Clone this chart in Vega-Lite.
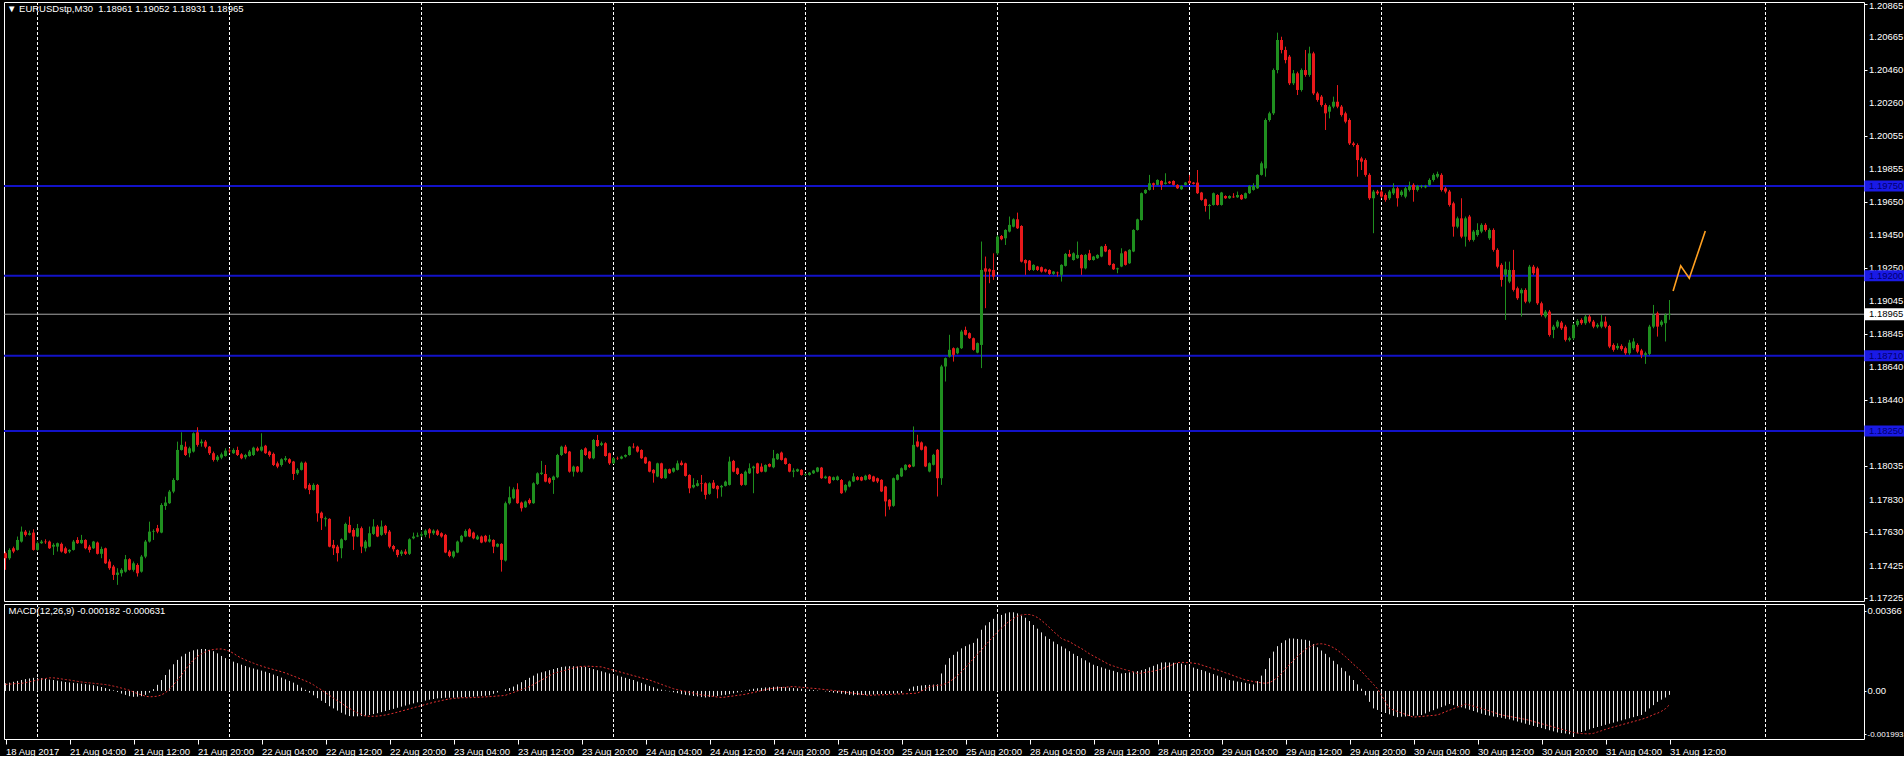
{
"$schema":"https://vega.github.io/schema/vega-lite/v6.json",
"background":"#000000",
"padding":{"left":2,"top":0,"right":0,"bottom":0},
"bounds":"flush",
"config":{"view":{"stroke":"#ffffff","strokeWidth":1},"concat":{"spacing":3},
"axis":{"labelFont":"Liberation Sans","labelFontSize":9.5,"labelColor":"#ffffff","tickColor":"#ffffff","domain":false,"grid":false,"labelFlush":false,"labelOverlap":false},
"title":{"font":"Liberation Sans","fontSize":9.5,"fontWeight":"normal","color":"#ffffff","anchor":"start"}},
"datasets":{
"grid":[{"g":8},{"g":56},{"g":104},{"g":152},{"g":200},{"g":248},{"g":296},{"g":344},{"g":392},{"g":440}],
"levels":[{"v":1.1975},{"v":1.192},{"v":1.1871},{"v":1.1825}],
"cur":[{"v":1.18965}],
"yttop":[{"v":1.20865}],
"yt":[{"v":1.20665},{"v":1.2046},{"v":1.2026},{"v":1.20055},{"v":1.19855},{"v":1.1965},{"v":1.1945},{"v":1.1925},{"v":1.19045},{"v":1.18845},{"v":1.1864},{"v":1.1844},{"v":1.18235},{"v":1.18035},{"v":1.1783},{"v":1.1763},{"v":1.17425},{"v":1.17225}],
"zig":[{"i":416.9,"p":1.19107},{"i":418.8,"p":1.19262},{"i":420.95,"p":1.19185},{"i":424.95,"p":1.19474}],
"k":[
{"i":0,"o":1.17502,"h":1.17512,"l":1.174,"c":1.17471,"m":0.00035,"s":0.0003},
{"i":1,"o":1.17471,"h":1.17532,"l":1.17461,"c":1.17522,"m":0.00038,"s":0.00031},
{"i":2,"o":1.17532,"h":1.17542,"l":1.17502,"c":1.17512,"m":0.00042,"s":0.00033},
{"i":3,"o":1.17522,"h":1.17604,"l":1.17518,"c":1.17583,"m":0.00046,"s":0.00034},
{"i":4,"o":1.17573,"h":1.17665,"l":1.17567,"c":1.17634,"m":0.0005,"s":0.00035},
{"i":5,"o":1.17634,"h":1.17644,"l":1.17604,"c":1.17614,"m":0.00054,"s":0.00038},
{"i":6,"o":1.17614,"h":1.1764,"l":1.1761,"c":1.17624,"m":0.00057,"s":0.00042},
{"i":7,"o":1.17628,"h":1.17648,"l":1.17518,"c":1.17522,"m":0.0006,"s":0.00046},
{"i":8,"o":1.17522,"h":1.17573,"l":1.17518,"c":1.17563,"m":0.0006,"s":0.0005},
{"i":9,"o":1.17563,"h":1.17583,"l":1.17559,"c":1.17573,"m":0.00058,"s":0.00054},
{"i":10,"o":1.17573,"h":1.17587,"l":1.17559,"c":1.17569,"m":0.00055,"s":0.00057},
{"i":11,"o":1.17573,"h":1.17579,"l":1.17528,"c":1.17532,"m":0.00052,"s":0.0006},
{"i":12,"o":1.17542,"h":1.17563,"l":1.17491,"c":1.17553,"m":0.0005,"s":0.0006},
{"i":13,"o":1.17542,"h":1.17567,"l":1.17512,"c":1.17563,"m":0.00047,"s":0.00058},
{"i":14,"o":1.17559,"h":1.17567,"l":1.17506,"c":1.17512,"m":0.00044,"s":0.00055},
{"i":15,"o":1.17532,"h":1.17542,"l":1.17498,"c":1.17502,"m":0.00041,"s":0.00052},
{"i":16,"o":1.17512,"h":1.17526,"l":1.17502,"c":1.17522,"m":0.00039,"s":0.0005},
{"i":17,"o":1.17522,"h":1.17583,"l":1.17518,"c":1.17573,"m":0.00037,"s":0.00047},
{"i":18,"o":1.17583,"h":1.176,"l":1.17559,"c":1.17563,"m":0.00035,"s":0.00044},
{"i":19,"o":1.17563,"h":1.17614,"l":1.17559,"c":1.17583,"m":0.00033,"s":0.00041},
{"i":20,"o":1.17583,"h":1.17587,"l":1.17526,"c":1.17532,"m":0.00031,"s":0.00039},
{"i":21,"o":1.17542,"h":1.17553,"l":1.17506,"c":1.17522,"m":0.00029,"s":0.00037},
{"i":22,"o":1.17532,"h":1.17577,"l":1.17528,"c":1.17573,"m":0.00026,"s":0.00035},
{"i":23,"o":1.17567,"h":1.17573,"l":1.17494,"c":1.17498,"m":0.00022,"s":0.00033},
{"i":24,"o":1.17498,"h":1.17542,"l":1.17471,"c":1.17528,"m":0.00018,"s":0.00031},
{"i":25,"o":1.17532,"h":1.17536,"l":1.17436,"c":1.1744,"m":0.00013,"s":0.00029},
{"i":26,"o":1.17451,"h":1.17465,"l":1.174,"c":1.1741,"m":0.00008,"s":0.00026},
{"i":27,"o":1.1742,"h":1.1743,"l":1.17338,"c":1.17369,"m":0.00003,"s":0.00022},
{"i":28,"o":1.17369,"h":1.1741,"l":1.17308,"c":1.17383,"m":-0.00005,"s":0.00018},
{"i":29,"o":1.17379,"h":1.1741,"l":1.17359,"c":1.174,"m":-0.00012,"s":0.00013},
{"i":30,"o":1.17389,"h":1.17491,"l":1.17383,"c":1.17465,"m":-0.00018,"s":0.00008},
{"i":31,"o":1.17465,"h":1.17471,"l":1.17396,"c":1.174,"m":-0.00024,"s":0.00003},
{"i":32,"o":1.174,"h":1.17451,"l":1.17389,"c":1.1744,"m":-0.00027,"s":-0.00005},
{"i":33,"o":1.1743,"h":1.1744,"l":1.17359,"c":1.17379,"m":-0.00026,"s":-0.00012},
{"i":34,"o":1.17389,"h":1.17491,"l":1.17383,"c":1.17481,"m":-0.00024,"s":-0.00018},
{"i":35,"o":1.17481,"h":1.17583,"l":1.17471,"c":1.17573,"m":-0.00018,"s":-0.00024},
{"i":36,"o":1.17573,"h":1.17695,"l":1.17567,"c":1.17634,"m":-0.00008,"s":-0.00027},
{"i":37,"o":1.17634,"h":1.17648,"l":1.17583,"c":1.17638,"m":0.00008,"s":-0.00026},
{"i":38,"o":1.17655,"h":1.17675,"l":1.17624,"c":1.17634,"m":0.00028,"s":-0.00024},
{"i":39,"o":1.17628,"h":1.17808,"l":1.17624,"c":1.17797,"m":0.0005,"s":-0.00018},
{"i":40,"o":1.17791,"h":1.17848,"l":1.17767,"c":1.17812,"m":0.00073,"s":-0.00008},
{"i":41,"o":1.17808,"h":1.17889,"l":1.17804,"c":1.17879,"m":0.00098,"s":0.00008},
{"i":42,"o":1.17879,"h":1.17961,"l":1.17869,"c":1.1795,"m":0.00122,"s":0.00028},
{"i":43,"o":1.1795,"h":1.18185,"l":1.17946,"c":1.18134,"m":0.00142,"s":0.0005},
{"i":44,"o":1.18134,"h":1.18242,"l":1.1813,"c":1.18165,"m":0.00158,"s":0.00073},
{"i":45,"o":1.18154,"h":1.18185,"l":1.18097,"c":1.18103,"m":0.0017,"s":0.00098},
{"i":46,"o":1.18114,"h":1.18154,"l":1.18089,"c":1.18144,"m":0.00179,"s":0.00122},
{"i":47,"o":1.18124,"h":1.18242,"l":1.18118,"c":1.18236,"m":0.00186,"s":0.00142},
{"i":48,"o":1.18242,"h":1.18273,"l":1.18154,"c":1.18165,"m":0.0019,"s":0.00158},
{"i":49,"o":1.18175,"h":1.18199,"l":1.18154,"c":1.18185,"m":0.00192,"s":0.0017},
{"i":50,"o":1.18185,"h":1.18195,"l":1.18144,"c":1.18154,"m":0.00192,"s":0.00179},
{"i":51,"o":1.18154,"h":1.18158,"l":1.18103,"c":1.18114,"m":0.00188,"s":0.00186},
{"i":52,"o":1.18114,"h":1.18124,"l":1.18063,"c":1.18073,"m":0.00182,"s":0.0019},
{"i":53,"o":1.18073,"h":1.18103,"l":1.18063,"c":1.18093,"m":0.00172,"s":0.00192},
{"i":54,"o":1.18087,"h":1.18118,"l":1.18077,"c":1.18107,"m":0.0016,"s":0.00192},
{"i":55,"o":1.18097,"h":1.18144,"l":1.18093,"c":1.1813,"m":0.0015,"s":0.00188},
{"i":56,"o":1.1813,"h":1.18144,"l":1.18114,"c":1.18126,"m":0.00142,"s":0.00182},
{"i":57,"o":1.18114,"h":1.18144,"l":1.1811,"c":1.18134,"m":0.00134,"s":0.00172},
{"i":58,"o":1.18134,"h":1.18154,"l":1.18097,"c":1.18103,"m":0.00127,"s":0.0016},
{"i":59,"o":1.18107,"h":1.18114,"l":1.18077,"c":1.18083,"m":0.0012,"s":0.0015},
{"i":60,"o":1.18089,"h":1.1811,"l":1.18077,"c":1.18103,"m":0.00114,"s":0.00142},
{"i":61,"o":1.18097,"h":1.18134,"l":1.18093,"c":1.18124,"m":0.00108,"s":0.00134},
{"i":62,"o":1.18103,"h":1.18154,"l":1.18097,"c":1.18148,"m":0.00103,"s":0.00127},
{"i":63,"o":1.18144,"h":1.18154,"l":1.18124,"c":1.1813,"m":0.00098,"s":0.0012},
{"i":64,"o":1.1813,"h":1.18236,"l":1.18124,"c":1.18154,"m":0.00093,"s":0.00114},
{"i":65,"o":1.1816,"h":1.18165,"l":1.1811,"c":1.18114,"m":0.00088,"s":0.00108},
{"i":66,"o":1.18124,"h":1.1813,"l":1.18093,"c":1.18103,"m":0.00082,"s":0.00103},
{"i":67,"o":1.1811,"h":1.18118,"l":1.18036,"c":1.18042,"m":0.00075,"s":0.00098},
{"i":68,"o":1.18052,"h":1.18063,"l":1.18022,"c":1.18032,"m":0.00068,"s":0.00093},
{"i":69,"o":1.18042,"h":1.18083,"l":1.18032,"c":1.18077,"m":0.00061,"s":0.00088},
{"i":70,"o":1.18073,"h":1.18097,"l":1.18063,"c":1.18083,"m":0.00053,"s":0.00082},
{"i":71,"o":1.18077,"h":1.18083,"l":1.18048,"c":1.18056,"m":0.00046,"s":0.00075},
{"i":72,"o":1.18063,"h":1.18067,"l":1.1795,"c":1.17987,"m":0.00038,"s":0.00068},
{"i":73,"o":1.17991,"h":1.18022,"l":1.17981,"c":1.18012,"m":0.00028,"s":0.00061},
{"i":74,"o":1.18012,"h":1.18063,"l":1.18008,"c":1.18056,"m":0.00015,"s":0.00053},
{"i":75,"o":1.18056,"h":1.18063,"l":1.17893,"c":1.17899,"m":0.00005,"s":0.00046},
{"i":76,"o":1.1792,"h":1.1793,"l":1.17863,"c":1.17889,"m":-0.00008,"s":0.00038},
{"i":77,"o":1.17889,"h":1.1793,"l":1.17885,"c":1.1792,"m":-0.0002,"s":0.00028},
{"i":78,"o":1.1792,"h":1.17926,"l":1.17695,"c":1.17746,"m":-0.00033,"s":0.00015},
{"i":79,"o":1.1775,"h":1.17757,"l":1.17644,"c":1.17716,"m":-0.00045,"s":0.00005},
{"i":80,"o":1.1771,"h":1.17726,"l":1.17665,"c":1.17716,"m":-0.00055,"s":-0.00008},
{"i":81,"o":1.17712,"h":1.17716,"l":1.17538,"c":1.17542,"m":-0.0007,"s":-0.0002},
{"i":82,"o":1.17553,"h":1.17583,"l":1.17491,"c":1.17532,"m":-0.0008,"s":-0.00033},
{"i":83,"o":1.17542,"h":1.17553,"l":1.17451,"c":1.17502,"m":-0.0009,"s":-0.00045},
{"i":84,"o":1.17532,"h":1.17593,"l":1.17471,"c":1.17587,"m":-0.001,"s":-0.00055},
{"i":85,"o":1.17583,"h":1.17689,"l":1.17579,"c":1.17681,"m":-0.00108,"s":-0.0007},
{"i":86,"o":1.17675,"h":1.17726,"l":1.17624,"c":1.17628,"m":-0.00115,"s":-0.0008},
{"i":87,"o":1.17644,"h":1.17655,"l":1.17522,"c":1.17604,"m":-0.00116,"s":-0.0009},
{"i":88,"o":1.17604,"h":1.17681,"l":1.176,"c":1.17655,"m":-0.00116,"s":-0.001},
{"i":89,"o":1.17655,"h":1.17665,"l":1.17502,"c":1.17542,"m":-0.00115,"s":-0.00108},
{"i":90,"o":1.17532,"h":1.17583,"l":1.17512,"c":1.17573,"m":-0.00113,"s":-0.00115},
{"i":91,"o":1.17542,"h":1.17665,"l":1.17538,"c":1.17624,"m":-0.0011,"s":-0.00116},
{"i":92,"o":1.1762,"h":1.1771,"l":1.17614,"c":1.17665,"m":-0.00106,"s":-0.00116},
{"i":93,"o":1.17665,"h":1.17675,"l":1.176,"c":1.17604,"m":-0.00102,"s":-0.00115},
{"i":94,"o":1.17614,"h":1.17702,"l":1.17608,"c":1.17665,"m":-0.00097,"s":-0.00113},
{"i":95,"o":1.17669,"h":1.17675,"l":1.17614,"c":1.17624,"m":-0.00092,"s":-0.0011},
{"i":96,"o":1.17634,"h":1.17644,"l":1.17532,"c":1.17542,"m":-0.00087,"s":-0.00106},
{"i":97,"o":1.17546,"h":1.17553,"l":1.17512,"c":1.17526,"m":-0.00082,"s":-0.00102},
{"i":98,"o":1.17522,"h":1.17526,"l":1.17477,"c":1.17491,"m":-0.00077,"s":-0.00097},
{"i":99,"o":1.17498,"h":1.17522,"l":1.17485,"c":1.17512,"m":-0.00072,"s":-0.00092},
{"i":100,"o":1.17512,"h":1.17526,"l":1.17491,"c":1.17498,"m":-0.00067,"s":-0.00087},
{"i":101,"o":1.17498,"h":1.17593,"l":1.17491,"c":1.17587,"m":-0.00062,"s":-0.00082},
{"i":102,"o":1.17593,"h":1.17628,"l":1.17587,"c":1.17604,"m":-0.00057,"s":-0.00077},
{"i":103,"o":1.17604,"h":1.17628,"l":1.176,"c":1.1761,"m":-0.00052,"s":-0.00072},
{"i":104,"o":1.1761,"h":1.17634,"l":1.176,"c":1.17618,"m":-0.00048,"s":-0.00067},
{"i":105,"o":1.17614,"h":1.17648,"l":1.176,"c":1.1764,"m":-0.00044,"s":-0.00062},
{"i":106,"o":1.17648,"h":1.17655,"l":1.17593,"c":1.17624,"m":-0.0004,"s":-0.00057},
{"i":107,"o":1.17624,"h":1.17648,"l":1.17614,"c":1.1764,"m":-0.00037,"s":-0.00052},
{"i":108,"o":1.1764,"h":1.17648,"l":1.17608,"c":1.17614,"m":-0.00034,"s":-0.00048},
{"i":109,"o":1.17624,"h":1.1763,"l":1.17597,"c":1.17604,"m":-0.00033,"s":-0.00044},
{"i":110,"o":1.17614,"h":1.1762,"l":1.17502,"c":1.17506,"m":-0.00031,"s":-0.0004},
{"i":111,"o":1.17512,"h":1.17522,"l":1.17477,"c":1.17485,"m":-0.00031,"s":-0.00037},
{"i":112,"o":1.17481,"h":1.17518,"l":1.17471,"c":1.17512,"m":-0.00031,"s":-0.00034},
{"i":113,"o":1.17506,"h":1.17579,"l":1.17502,"c":1.17573,"m":-0.0003,"s":-0.00033},
{"i":114,"o":1.17573,"h":1.17614,"l":1.17567,"c":1.17608,"m":-0.00029,"s":-0.00031},
{"i":115,"o":1.17604,"h":1.17648,"l":1.176,"c":1.17638,"m":-0.00028,"s":-0.00031},
{"i":116,"o":1.17648,"h":1.17655,"l":1.176,"c":1.17604,"m":-0.00027,"s":-0.00031},
{"i":117,"o":1.17628,"h":1.17634,"l":1.17587,"c":1.17593,"m":-0.00026,"s":-0.0003},
{"i":118,"o":1.17587,"h":1.17614,"l":1.17583,"c":1.17604,"m":-0.00025,"s":-0.00029},
{"i":119,"o":1.17604,"h":1.1761,"l":1.17563,"c":1.17567,"m":-0.00023,"s":-0.00028},
{"i":120,"o":1.17608,"h":1.17614,"l":1.17567,"c":1.17573,"m":-0.00022,"s":-0.00027},
{"i":121,"o":1.17573,"h":1.17614,"l":1.17567,"c":1.17587,"m":-0.0002,"s":-0.00026},
{"i":122,"o":1.17583,"h":1.17587,"l":1.17502,"c":1.17542,"m":-0.00013,"s":-0.00025},
{"i":123,"o":1.17542,"h":1.17563,"l":1.17538,"c":1.17559,"m":-0.00007,"s":-0.00023},
{"i":124,"o":1.17559,"h":1.17563,"l":1.17389,"c":1.17461,"m":0,"s":-0.00022},
{"i":125,"o":1.17457,"h":1.17818,"l":1.17451,"c":1.17808,"m":0.00007,"s":-0.0002},
{"i":126,"o":1.17808,"h":1.1791,"l":1.178,"c":1.17844,"m":0.00013,"s":-0.00013},
{"i":127,"o":1.17838,"h":1.17905,"l":1.17832,"c":1.17893,"m":0.0002,"s":-0.00007},
{"i":128,"o":1.17893,"h":1.1793,"l":1.17804,"c":1.17808,"m":0.0003,"s":0},
{"i":129,"o":1.17812,"h":1.17818,"l":1.17757,"c":1.17777,"m":0.0004,"s":0.00007},
{"i":130,"o":1.17783,"h":1.17824,"l":1.17779,"c":1.17818,"m":0.0005,"s":0.00013},
{"i":131,"o":1.17828,"h":1.17838,"l":1.178,"c":1.17808,"m":0.0006,"s":0.0002},
{"i":132,"o":1.17808,"h":1.17936,"l":1.17804,"c":1.1793,"m":0.0007,"s":0.0003},
{"i":133,"o":1.17926,"h":1.17997,"l":1.1792,"c":1.17991,"m":0.0008,"s":0.0004},
{"i":134,"o":1.17987,"h":1.18067,"l":1.17981,"c":1.17995,"m":0.00085,"s":0.0005},
{"i":135,"o":1.17987,"h":1.18042,"l":1.17936,"c":1.1794,"m":0.0009,"s":0.0006},
{"i":136,"o":1.17961,"h":1.17967,"l":1.17926,"c":1.17934,"m":0.00095,"s":0.0007},
{"i":137,"o":1.1795,"h":1.17977,"l":1.17865,"c":1.17971,"m":0.001,"s":0.0008},
{"i":138,"o":1.17967,"h":1.1811,"l":1.17961,"c":1.18103,"m":0.00105,"s":0.00085},
{"i":139,"o":1.18103,"h":1.1816,"l":1.18097,"c":1.18154,"m":0.0011,"s":0.0009},
{"i":140,"o":1.18154,"h":1.18165,"l":1.1811,"c":1.18114,"m":0.00112,"s":0.00095},
{"i":141,"o":1.18124,"h":1.18128,"l":1.17995,"c":1.18001,"m":0.00113,"s":0.001},
{"i":142,"o":1.18001,"h":1.18038,"l":1.17971,"c":1.18032,"m":0.00113,"s":0.00105},
{"i":143,"o":1.18032,"h":1.18036,"l":1.17995,"c":1.18001,"m":0.00112,"s":0.0011},
{"i":144,"o":1.18001,"h":1.1814,"l":1.17995,"c":1.18134,"m":0.00111,"s":0.00112},
{"i":145,"o":1.18144,"h":1.1815,"l":1.18097,"c":1.18103,"m":0.0011,"s":0.00113},
{"i":146,"o":1.18124,"h":1.18128,"l":1.18077,"c":1.18083,"m":0.00105,"s":0.00113},
{"i":147,"o":1.18083,"h":1.18201,"l":1.18077,"c":1.18195,"m":0.001,"s":0.00112},
{"i":148,"o":1.18195,"h":1.18226,"l":1.18154,"c":1.18158,"m":0.00095,"s":0.00111},
{"i":149,"o":1.18165,"h":1.18185,"l":1.18158,"c":1.18175,"m":0.0009,"s":0.0011},
{"i":150,"o":1.18175,"h":1.18181,"l":1.18093,"c":1.18097,"m":0.00085,"s":0.00105},
{"i":151,"o":1.18114,"h":1.18118,"l":1.18042,"c":1.18052,"m":0.0008,"s":0.001},
{"i":152,"o":1.18052,"h":1.18089,"l":1.18048,"c":1.18083,"m":0.00075,"s":0.00095},
{"i":153,"o":1.18083,"h":1.18093,"l":1.18073,"c":1.18081,"m":0.0007,"s":0.0009},
{"i":154,"o":1.18081,"h":1.18099,"l":1.18077,"c":1.18093,"m":0.00065,"s":0.00085},
{"i":155,"o":1.18093,"h":1.18107,"l":1.18087,"c":1.18103,"m":0.0006,"s":0.0008},
{"i":156,"o":1.18103,"h":1.18158,"l":1.18099,"c":1.18154,"m":0.00055,"s":0.00075},
{"i":157,"o":1.18154,"h":1.18175,"l":1.18144,"c":1.1815,"m":0.0005,"s":0.0007},
{"i":158,"o":1.18154,"h":1.1816,"l":1.18118,"c":1.18124,"m":0.00043,"s":0.00065},
{"i":159,"o":1.18134,"h":1.18138,"l":1.18079,"c":1.18083,"m":0.00037,"s":0.0006},
{"i":160,"o":1.18089,"h":1.18093,"l":1.18048,"c":1.18052,"m":0.0003,"s":0.00055},
{"i":161,"o":1.18063,"h":1.18067,"l":1.17997,"c":1.18001,"m":0.00023,"s":0.0005},
{"i":162,"o":1.18012,"h":1.18016,"l":1.17934,"c":1.17991,"m":0.00017,"s":0.00043},
{"i":163,"o":1.17971,"h":1.18056,"l":1.17967,"c":1.18052,"m":0.0001,"s":0.00037},
{"i":164,"o":1.18052,"h":1.18056,"l":1.17957,"c":1.17961,"m":0.00006,"s":0.0003},
{"i":165,"o":1.17961,"h":1.1802,"l":1.17957,"c":1.18016,"m":0.00002,"s":0.00023},
{"i":166,"o":1.18016,"h":1.1802,"l":1.17987,"c":1.17991,"m":-0.00002,"s":0.00017},
{"i":167,"o":1.18001,"h":1.18026,"l":1.17995,"c":1.18022,"m":-0.00006,"s":0.0001},
{"i":168,"o":1.18012,"h":1.18069,"l":1.18008,"c":1.18052,"m":-0.0001,"s":0.00006},
{"i":169,"o":1.18056,"h":1.18069,"l":1.18038,"c":1.18042,"m":-0.00015,"s":0.00002},
{"i":170,"o":1.18052,"h":1.18056,"l":1.17971,"c":1.17975,"m":-0.00018,"s":-0.00002},
{"i":171,"o":1.17981,"h":1.17985,"l":1.17869,"c":1.17899,"m":-0.0002,"s":-0.00006},
{"i":172,"o":1.17905,"h":1.17961,"l":1.17899,"c":1.1792,"m":-0.00023,"s":-0.0001},
{"i":173,"o":1.17914,"h":1.1795,"l":1.1791,"c":1.1793,"m":-0.00025,"s":-0.00015},
{"i":174,"o":1.1793,"h":1.17981,"l":1.17879,"c":1.17926,"m":-0.00028,"s":-0.00018},
{"i":175,"o":1.1793,"h":1.17936,"l":1.17832,"c":1.17859,"m":-0.0003,"s":-0.0002},
{"i":176,"o":1.17865,"h":1.17936,"l":1.17859,"c":1.1793,"m":-0.00028,"s":-0.00023},
{"i":177,"o":1.17934,"h":1.1795,"l":1.17895,"c":1.17899,"m":-0.00025,"s":-0.00025},
{"i":178,"o":1.17914,"h":1.17918,"l":1.17838,"c":1.17893,"m":-0.00023,"s":-0.00028},
{"i":179,"o":1.17905,"h":1.1792,"l":1.17848,"c":1.17914,"m":-0.0002,"s":-0.0003},
{"i":180,"o":1.17914,"h":1.17946,"l":1.1791,"c":1.1794,"m":-0.00018,"s":-0.00028},
{"i":181,"o":1.1792,"h":1.18093,"l":1.17916,"c":1.18063,"m":-0.00015,"s":-0.00025},
{"i":182,"o":1.18067,"h":1.18073,"l":1.17997,"c":1.18001,"m":-0.00011,"s":-0.00023},
{"i":183,"o":1.18022,"h":1.18026,"l":1.17981,"c":1.17987,"m":-0.00007,"s":-0.0002},
{"i":184,"o":1.17987,"h":1.17991,"l":1.17914,"c":1.1792,"m":-0.00003,"s":-0.00018},
{"i":185,"o":1.1792,"h":1.18008,"l":1.17916,"c":1.18001,"m":0.00002,"s":-0.00015},
{"i":186,"o":1.17991,"h":1.18052,"l":1.17987,"c":1.18022,"m":0.00006,"s":-0.00011},
{"i":187,"o":1.18022,"h":1.18038,"l":1.17869,"c":1.18032,"m":0.0001,"s":-0.00007},
{"i":188,"o":1.18052,"h":1.18056,"l":1.17987,"c":1.17991,"m":0.00012,"s":-0.00003},
{"i":189,"o":1.18032,"h":1.18052,"l":1.17997,"c":1.18001,"m":0.00014,"s":0.00002},
{"i":190,"o":1.18001,"h":1.18046,"l":1.17997,"c":1.18042,"m":0.00016,"s":0.00006},
{"i":191,"o":1.18048,"h":1.18052,"l":1.18028,"c":1.18032,"m":0.00017,"s":0.0001},
{"i":192,"o":1.18028,"h":1.18134,"l":1.18022,"c":1.18083,"m":0.00019,"s":0.00012},
{"i":193,"o":1.18077,"h":1.18114,"l":1.18073,"c":1.1811,"m":0.0002,"s":0.00014},
{"i":194,"o":1.18118,"h":1.18124,"l":1.18069,"c":1.18073,"m":0.00018,"s":0.00016},
{"i":195,"o":1.18083,"h":1.18087,"l":1.18044,"c":1.18048,"m":0.00017,"s":0.00017},
{"i":196,"o":1.18048,"h":1.18052,"l":1.17997,"c":1.18001,"m":0.00015,"s":0.00019},
{"i":197,"o":1.18001,"h":1.18022,"l":1.17967,"c":1.18008,"m":0.00013,"s":0.0002},
{"i":198,"o":1.18003,"h":1.1802,"l":1.17999,"c":1.18016,"m":0.00012,"s":0.00018},
{"i":199,"o":1.18012,"h":1.18016,"l":1.17977,"c":1.17981,"m":0.0001,"s":0.00017},
{"i":200,"o":1.17981,"h":1.17991,"l":1.17975,"c":1.17985,"m":0.00008,"s":0.00015},
{"i":201,"o":1.17981,"h":1.17999,"l":1.17977,"c":1.17995,"m":0.00006,"s":0.00013},
{"i":202,"o":1.17991,"h":1.18012,"l":1.17987,"c":1.18008,"m":0.00004,"s":0.00012},
{"i":203,"o":1.18001,"h":1.1803,"l":1.17997,"c":1.18026,"m":0.00002,"s":0.0001},
{"i":204,"o":1.18026,"h":1.1803,"l":1.17957,"c":1.17961,"m":0,"s":0.00008},
{"i":205,"o":1.17961,"h":1.17977,"l":1.17957,"c":1.17971,"m":-0.00002,"s":0.00006},
{"i":206,"o":1.17971,"h":1.17975,"l":1.17926,"c":1.1793,"m":-0.00005,"s":0.00004},
{"i":207,"o":1.1795,"h":1.17971,"l":1.17946,"c":1.17967,"m":-0.00008,"s":0.00002},
{"i":208,"o":1.1795,"h":1.17977,"l":1.17946,"c":1.17971,"m":-0.0001,"s":0},
{"i":209,"o":1.1795,"h":1.17956,"l":1.17865,"c":1.17869,"m":-0.00013,"s":-0.00002},
{"i":210,"o":1.17886,"h":1.17925,"l":1.17874,"c":1.1792,"m":-0.00015,"s":-0.00005},
{"i":211,"o":1.1791,"h":1.17947,"l":1.17905,"c":1.17941,"m":-0.00018,"s":-0.00008},
{"i":212,"o":1.17941,"h":1.17992,"l":1.17937,"c":1.17972,"m":-0.0002,"s":-0.0001},
{"i":213,"o":1.17968,"h":1.17974,"l":1.17947,"c":1.17951,"m":-0.00019,"s":-0.00013},
{"i":214,"o":1.17968,"h":1.17972,"l":1.17943,"c":1.17947,"m":-0.00018,"s":-0.00015},
{"i":215,"o":1.17951,"h":1.17982,"l":1.17947,"c":1.17976,"m":-0.00018,"s":-0.00018},
{"i":216,"o":1.17982,"h":1.17986,"l":1.17951,"c":1.17955,"m":-0.00017,"s":-0.0002},
{"i":217,"o":1.17972,"h":1.17976,"l":1.17937,"c":1.17941,"m":-0.00016,"s":-0.00019},
{"i":218,"o":1.17961,"h":1.17965,"l":1.17931,"c":1.17941,"m":-0.00015,"s":-0.00018},
{"i":219,"o":1.17951,"h":1.17955,"l":1.17876,"c":1.1788,"m":-0.00014,"s":-0.00018},
{"i":220,"o":1.1791,"h":1.17914,"l":1.17727,"c":1.17819,"m":-0.00014,"s":-0.00017},
{"i":221,"o":1.17829,"h":1.17833,"l":1.17768,"c":1.17788,"m":-0.00013,"s":-0.00016},
{"i":222,"o":1.17792,"h":1.17965,"l":1.17786,"c":1.17961,"m":-0.00012,"s":-0.00015},
{"i":223,"o":1.17951,"h":1.17986,"l":1.17947,"c":1.17982,"m":-0.00011,"s":-0.00014},
{"i":224,"o":1.17972,"h":1.18027,"l":1.17968,"c":1.18022,"m":-0.0001,"s":-0.00014},
{"i":225,"o":1.18012,"h":1.18047,"l":1.18008,"c":1.18043,"m":0,"s":-0.00013},
{"i":226,"o":1.18043,"h":1.18047,"l":1.18024,"c":1.18029,"m":0.0001,"s":-0.00012},
{"i":227,"o":1.18033,"h":1.18278,"l":1.18029,"c":1.18165,"m":0.0002,"s":-0.00011},
{"i":228,"o":1.18186,"h":1.18227,"l":1.1815,"c":1.18155,"m":0.00023,"s":-0.0001},
{"i":229,"o":1.1818,"h":1.18186,"l":1.18131,"c":1.18135,"m":0.00025,"s":0},
{"i":230,"o":1.18155,"h":1.1816,"l":1.18029,"c":1.18033,"m":0.00027,"s":0.0001},
{"i":231,"o":1.18002,"h":1.18058,"l":1.17997,"c":1.18053,"m":0.00028,"s":0.0002},
{"i":232,"o":1.18043,"h":1.1811,"l":1.18039,"c":1.18104,"m":0.00029,"s":0.00023},
{"i":233,"o":1.18135,"h":1.1814,"l":1.17849,"c":1.17961,"m":0.0003,"s":0.00025},
{"i":234,"o":1.17961,"h":1.18655,"l":1.1792,"c":1.18645,"m":0.0008,"s":0.00027},
{"i":235,"o":1.18645,"h":1.187,"l":1.18553,"c":1.18696,"m":0.0012,"s":0.00033},
{"i":236,"o":1.18706,"h":1.18839,"l":1.187,"c":1.18747,"m":0.0015,"s":0.00042},
{"i":237,"o":1.18757,"h":1.18762,"l":1.18675,"c":1.18716,"m":0.00165,"s":0.00055},
{"i":238,"o":1.18726,"h":1.18762,"l":1.1872,"c":1.18757,"m":0.0018,"s":0.0007},
{"i":239,"o":1.18757,"h":1.18869,"l":1.18752,"c":1.18859,"m":0.00195,"s":0.00088},
{"i":240,"o":1.18869,"h":1.18889,"l":1.18835,"c":1.18839,"m":0.00205,"s":0.00108},
{"i":241,"o":1.18849,"h":1.18854,"l":1.18814,"c":1.18818,"m":0.00213,"s":0.00128},
{"i":242,"o":1.18818,"h":1.18822,"l":1.18742,"c":1.18747,"m":0.0022,"s":0.00148},
{"i":243,"o":1.1873,"h":1.18792,"l":1.18726,"c":1.18788,"m":0.0024,"s":0.00168},
{"i":244,"o":1.18777,"h":1.1941,"l":1.18635,"c":1.19236,"m":0.0028,"s":0.00188},
{"i":245,"o":1.19246,"h":1.19318,"l":1.19002,"c":1.19226,"m":0.003,"s":0.0021},
{"i":246,"o":1.1924,"h":1.19246,"l":1.19155,"c":1.19226,"m":0.00315,"s":0.0023},
{"i":247,"o":1.19236,"h":1.19338,"l":1.19175,"c":1.19196,"m":0.0033,"s":0.0025},
{"i":248,"o":1.19338,"h":1.1945,"l":1.19328,"c":1.1944,"m":0.0034,"s":0.0027},
{"i":249,"o":1.19444,"h":1.1945,"l":1.19418,"c":1.19424,"m":0.00348,"s":0.00288},
{"i":250,"o":1.1943,"h":1.19485,"l":1.19389,"c":1.19481,"m":0.00355,"s":0.00305},
{"i":251,"o":1.19471,"h":1.19563,"l":1.19466,"c":1.19512,"m":0.0036,"s":0.0032},
{"i":252,"o":1.19501,"h":1.19552,"l":1.19497,"c":1.19546,"m":0.0036,"s":0.00332},
{"i":253,"o":1.19546,"h":1.19587,"l":1.19487,"c":1.19491,"m":0.00355,"s":0.00342},
{"i":254,"o":1.19505,"h":1.1951,"l":1.19282,"c":1.19287,"m":0.00345,"s":0.00348},
{"i":255,"o":1.19297,"h":1.19301,"l":1.19206,"c":1.19277,"m":0.00335,"s":0.0035},
{"i":256,"o":1.19293,"h":1.19297,"l":1.1923,"c":1.19236,"m":0.0032,"s":0.0035},
{"i":257,"o":1.19236,"h":1.19271,"l":1.1923,"c":1.19267,"m":0.00302,"s":0.00345},
{"i":258,"o":1.19257,"h":1.19261,"l":1.1923,"c":1.19236,"m":0.00285,"s":0.00336},
{"i":259,"o":1.19253,"h":1.19257,"l":1.1922,"c":1.19226,"m":0.00268,"s":0.00323},
{"i":260,"o":1.1924,"h":1.19244,"l":1.1922,"c":1.19226,"m":0.0025,"s":0.00307},
{"i":261,"o":1.19236,"h":1.1924,"l":1.19206,"c":1.19212,"m":0.00238,"s":0.0029},
{"i":262,"o":1.19212,"h":1.1923,"l":1.19206,"c":1.19226,"m":0.00226,"s":0.00272},
{"i":263,"o":1.1922,"h":1.19226,"l":1.19196,"c":1.19216,"m":0.00214,"s":0.00256},
{"i":264,"o":1.19206,"h":1.19271,"l":1.19165,"c":1.19267,"m":0.00204,"s":0.0024},
{"i":265,"o":1.19261,"h":1.1934,"l":1.19257,"c":1.19334,"m":0.00194,"s":0.00232},
{"i":266,"o":1.19334,"h":1.19359,"l":1.19314,"c":1.19318,"m":0.00182,"s":0.00226},
{"i":267,"o":1.19297,"h":1.19344,"l":1.19293,"c":1.19338,"m":0.0017,"s":0.00214},
{"i":268,"o":1.19308,"h":1.1941,"l":1.19304,"c":1.19328,"m":0.0016,"s":0.00204},
{"i":269,"o":1.19328,"h":1.19332,"l":1.19206,"c":1.19246,"m":0.0015,"s":0.00194},
{"i":270,"o":1.19246,"h":1.19334,"l":1.1924,"c":1.19328,"m":0.0014,"s":0.00182},
{"i":271,"o":1.19338,"h":1.19359,"l":1.19293,"c":1.19297,"m":0.0013,"s":0.0017},
{"i":272,"o":1.19297,"h":1.19322,"l":1.19293,"c":1.19318,"m":0.0012,"s":0.0016},
{"i":273,"o":1.19308,"h":1.19332,"l":1.19304,"c":1.19328,"m":0.00114,"s":0.0015},
{"i":274,"o":1.19318,"h":1.19383,"l":1.19314,"c":1.19379,"m":0.00108,"s":0.0014},
{"i":275,"o":1.19383,"h":1.19395,"l":1.19345,"c":1.19349,"m":0.00102,"s":0.0013},
{"i":276,"o":1.19359,"h":1.19363,"l":1.19263,"c":1.19267,"m":0.00097,"s":0.0012},
{"i":277,"o":1.19273,"h":1.19277,"l":1.19236,"c":1.1924,"m":0.00092,"s":0.00114},
{"i":278,"o":1.1924,"h":1.1925,"l":1.19216,"c":1.19246,"m":0.00086,"s":0.00108},
{"i":279,"o":1.19257,"h":1.19369,"l":1.19253,"c":1.19338,"m":0.0008,"s":0.00102},
{"i":280,"o":1.19349,"h":1.19353,"l":1.19263,"c":1.19267,"m":0.00082,"s":0.00097},
{"i":281,"o":1.19277,"h":1.19363,"l":1.19273,"c":1.19359,"m":0.00085,"s":0.00092},
{"i":282,"o":1.19349,"h":1.19485,"l":1.19345,"c":1.19481,"m":0.00088,"s":0.00086},
{"i":283,"o":1.19481,"h":1.1955,"l":1.19477,"c":1.19546,"m":0.00091,"s":0.0008},
{"i":284,"o":1.19542,"h":1.1971,"l":1.19538,"c":1.19706,"m":0.00095,"s":0.00082},
{"i":285,"o":1.19706,"h":1.1973,"l":1.19701,"c":1.19726,"m":0.001,"s":0.00085},
{"i":286,"o":1.19726,"h":1.19818,"l":1.19722,"c":1.19767,"m":0.00108,"s":0.00088},
{"i":287,"o":1.19767,"h":1.19771,"l":1.19726,"c":1.19757,"m":0.00115,"s":0.00091},
{"i":288,"o":1.19757,"h":1.19791,"l":1.19753,"c":1.19787,"m":0.00122,"s":0.00095},
{"i":289,"o":1.19781,"h":1.19785,"l":1.19726,"c":1.19757,"m":0.0013,"s":0.001},
{"i":290,"o":1.19763,"h":1.19828,"l":1.19759,"c":1.19771,"m":0.00131,"s":0.00108},
{"i":291,"o":1.19777,"h":1.19781,"l":1.19763,"c":1.19767,"m":0.0013,"s":0.00115},
{"i":292,"o":1.19781,"h":1.19785,"l":1.19753,"c":1.19757,"m":0.00129,"s":0.00122},
{"i":293,"o":1.19757,"h":1.19761,"l":1.19732,"c":1.19736,"m":0.00127,"s":0.0013},
{"i":294,"o":1.1973,"h":1.19755,"l":1.19726,"c":1.1975,"m":0.00125,"s":0.00131},
{"i":295,"o":1.19757,"h":1.19775,"l":1.19753,"c":1.19771,"m":0.00119,"s":0.0013},
{"i":296,"o":1.19781,"h":1.19818,"l":1.19763,"c":1.19767,"m":0.00113,"s":0.00129},
{"i":297,"o":1.19771,"h":1.19775,"l":1.19759,"c":1.19763,"m":0.00107,"s":0.00127},
{"i":298,"o":1.19771,"h":1.19848,"l":1.19701,"c":1.19706,"m":0.00101,"s":0.00125},
{"i":299,"o":1.1971,"h":1.19714,"l":1.1966,"c":1.19665,"m":0.00096,"s":0.00119},
{"i":300,"o":1.19669,"h":1.19673,"l":1.19593,"c":1.19628,"m":0.0009,"s":0.00113},
{"i":301,"o":1.19628,"h":1.1964,"l":1.19546,"c":1.19634,"m":0.00083,"s":0.00107},
{"i":302,"o":1.19634,"h":1.1971,"l":1.1963,"c":1.19706,"m":0.00077,"s":0.00101},
{"i":303,"o":1.19695,"h":1.197,"l":1.1963,"c":1.19634,"m":0.0007,"s":0.00096},
{"i":304,"o":1.19634,"h":1.19714,"l":1.1963,"c":1.1971,"m":0.00063,"s":0.0009},
{"i":305,"o":1.19689,"h":1.19693,"l":1.19671,"c":1.19675,"m":0.00057,"s":0.00083},
{"i":306,"o":1.19675,"h":1.19693,"l":1.19671,"c":1.19689,"m":0.0005,"s":0.00077},
{"i":307,"o":1.19685,"h":1.19706,"l":1.19677,"c":1.19681,"m":0.00047,"s":0.0007},
{"i":308,"o":1.19681,"h":1.19716,"l":1.19677,"c":1.19695,"m":0.00043,"s":0.00063},
{"i":309,"o":1.19695,"h":1.197,"l":1.19665,"c":1.19669,"m":0.0004,"s":0.00057},
{"i":310,"o":1.19675,"h":1.1971,"l":1.19671,"c":1.19706,"m":0.00037,"s":0.0005},
{"i":311,"o":1.19706,"h":1.19755,"l":1.19701,"c":1.1975,"m":0.00033,"s":0.00047},
{"i":312,"o":1.19726,"h":1.19767,"l":1.19722,"c":1.1975,"m":0.0003,"s":0.00043},
{"i":313,"o":1.19736,"h":1.19822,"l":1.19732,"c":1.19818,"m":0.00045,"s":0.0004},
{"i":314,"o":1.19818,"h":1.199,"l":1.19814,"c":1.19889,"m":0.0007,"s":0.00037},
{"i":315,"o":1.19858,"h":1.20164,"l":1.19807,"c":1.20154,"m":0.001,"s":0.00035},
{"i":316,"o":1.20154,"h":1.20205,"l":1.20144,"c":1.20195,"m":0.0015,"s":0.00038},
{"i":317,"o":1.20195,"h":1.2047,"l":1.20185,"c":1.2046,"m":0.0018,"s":0.00048},
{"i":318,"o":1.2046,"h":1.20689,"l":1.2044,"c":1.20644,"m":0.00205,"s":0.00062},
{"i":319,"o":1.20644,"h":1.20664,"l":1.20562,"c":1.20583,"m":0.0022,"s":0.0008},
{"i":320,"o":1.20583,"h":1.20603,"l":1.20501,"c":1.20521,"m":0.00232,"s":0.001},
{"i":321,"o":1.20542,"h":1.20552,"l":1.20368,"c":1.20379,"m":0.0024,"s":0.0012},
{"i":322,"o":1.20379,"h":1.2046,"l":1.20368,"c":1.2044,"m":0.0024,"s":0.0014},
{"i":323,"o":1.2044,"h":1.2045,"l":1.20307,"c":1.20338,"m":0.00238,"s":0.00158},
{"i":324,"o":1.20338,"h":1.2047,"l":1.20328,"c":1.2046,"m":0.00236,"s":0.00175},
{"i":325,"o":1.2046,"h":1.20583,"l":1.20419,"c":1.2043,"m":0.00234,"s":0.0019},
{"i":326,"o":1.2043,"h":1.20603,"l":1.20419,"c":1.20562,"m":0.0023,"s":0.00202},
{"i":327,"o":1.20562,"h":1.20572,"l":1.20307,"c":1.20317,"m":0.00215,"s":0.0021},
{"i":328,"o":1.20317,"h":1.20327,"l":1.20266,"c":1.20277,"m":0.002,"s":0.00215},
{"i":329,"o":1.20297,"h":1.20307,"l":1.20236,"c":1.20246,"m":0.00185,"s":0.00216},
{"i":330,"o":1.20246,"h":1.20256,"l":1.20093,"c":1.20195,"m":0.0017,"s":0.00213},
{"i":331,"o":1.20205,"h":1.20246,"l":1.20164,"c":1.20236,"m":0.00154,"s":0.00207},
{"i":332,"o":1.20236,"h":1.20297,"l":1.20226,"c":1.20266,"m":0.00138,"s":0.00198},
{"i":333,"o":1.20266,"h":1.20368,"l":1.20226,"c":1.20236,"m":0.00122,"s":0.00186},
{"i":334,"o":1.20236,"h":1.20246,"l":1.20175,"c":1.20185,"m":0.00106,"s":0.00172},
{"i":335,"o":1.20195,"h":1.20205,"l":1.20134,"c":1.20144,"m":0.0009,"s":0.00157},
{"i":336,"o":1.20154,"h":1.20164,"l":1.20001,"c":1.20011,"m":0.0007,"s":0.0014},
{"i":337,"o":1.20011,"h":1.20021,"l":1.19991,"c":1.20001,"m":0.0005,"s":0.00122},
{"i":338,"o":1.20001,"h":1.20011,"l":1.19807,"c":1.19909,"m":0.0003,"s":0.00106},
{"i":339,"o":1.19919,"h":1.19929,"l":1.19848,"c":1.19899,"m":0.0001,"s":0.0009},
{"i":340,"o":1.19909,"h":1.19919,"l":1.19807,"c":1.19818,"m":-0.0002,"s":0.0007},
{"i":341,"o":1.19818,"h":1.19828,"l":1.19665,"c":1.19675,"m":-0.0005,"s":0.0005},
{"i":342,"o":1.19675,"h":1.19726,"l":1.19461,"c":1.19716,"m":-0.0008,"s":0.0003},
{"i":343,"o":1.19716,"h":1.19726,"l":1.19695,"c":1.19705,"m":-0.00087,"s":0.0001},
{"i":344,"o":1.19716,"h":1.19726,"l":1.19675,"c":1.19685,"m":-0.00094,"s":-0.0002},
{"i":345,"o":1.19695,"h":1.19705,"l":1.19654,"c":1.19665,"m":-0.00101,"s":-0.0005},
{"i":346,"o":1.19675,"h":1.19726,"l":1.19665,"c":1.19716,"m":-0.00107,"s":-0.0008},
{"i":347,"o":1.19705,"h":1.19767,"l":1.19695,"c":1.19736,"m":-0.00114,"s":-0.00087},
{"i":348,"o":1.19736,"h":1.19746,"l":1.19624,"c":1.19675,"m":-0.0012,"s":-0.00094},
{"i":349,"o":1.19695,"h":1.19726,"l":1.19685,"c":1.19716,"m":-0.00118,"s":-0.00101},
{"i":350,"o":1.19685,"h":1.19746,"l":1.19675,"c":1.19736,"m":-0.00117,"s":-0.00107},
{"i":351,"o":1.19726,"h":1.19777,"l":1.19716,"c":1.1975,"m":-0.00115,"s":-0.00114},
{"i":352,"o":1.19757,"h":1.19767,"l":1.19654,"c":1.19726,"m":-0.00113,"s":-0.0012},
{"i":353,"o":1.19726,"h":1.19757,"l":1.19716,"c":1.1975,"m":-0.00112,"s":-0.00118},
{"i":354,"o":1.19746,"h":1.19757,"l":1.19736,"c":1.1975,"m":-0.0011,"s":-0.00117},
{"i":355,"o":1.19742,"h":1.19757,"l":1.19736,"c":1.1975,"m":-0.00103,"s":-0.00115},
{"i":356,"o":1.19757,"h":1.19797,"l":1.1975,"c":1.19787,"m":-0.00095,"s":-0.00113},
{"i":357,"o":1.19787,"h":1.19828,"l":1.19777,"c":1.19818,"m":-0.00088,"s":-0.00112},
{"i":358,"o":1.19807,"h":1.19838,"l":1.19797,"c":1.19824,"m":-0.00081,"s":-0.0011},
{"i":359,"o":1.19818,"h":1.19828,"l":1.19716,"c":1.19726,"m":-0.00074,"s":-0.00103},
{"i":360,"o":1.19736,"h":1.19746,"l":1.19705,"c":1.19716,"m":-0.00067,"s":-0.00095},
{"i":361,"o":1.19716,"h":1.19726,"l":1.19624,"c":1.19634,"m":-0.0006,"s":-0.00088},
{"i":362,"o":1.19644,"h":1.19654,"l":1.1944,"c":1.19501,"m":-0.00065,"s":-0.00081},
{"i":363,"o":1.19501,"h":1.19563,"l":1.19491,"c":1.19552,"m":-0.0007,"s":-0.00074},
{"i":364,"o":1.19552,"h":1.19675,"l":1.1943,"c":1.1944,"m":-0.00075,"s":-0.00067},
{"i":365,"o":1.1944,"h":1.19563,"l":1.19379,"c":1.19552,"m":-0.0008,"s":-0.0006},
{"i":366,"o":1.19563,"h":1.19573,"l":1.1941,"c":1.1942,"m":-0.00086,"s":-0.00065},
{"i":367,"o":1.1942,"h":1.19481,"l":1.1941,"c":1.19471,"m":-0.00092,"s":-0.0007},
{"i":368,"o":1.1945,"h":1.19522,"l":1.1944,"c":1.19481,"m":-0.00098,"s":-0.00075},
{"i":369,"o":1.19471,"h":1.19522,"l":1.19461,"c":1.19512,"m":-0.00104,"s":-0.0008},
{"i":370,"o":1.19512,"h":1.19522,"l":1.19471,"c":1.19481,"m":-0.0011,"s":-0.00086},
{"i":371,"o":1.1943,"h":1.19491,"l":1.1942,"c":1.19481,"m":-0.00113,"s":-0.00092},
{"i":372,"o":1.19481,"h":1.19491,"l":1.19348,"c":1.19359,"m":-0.00117,"s":-0.00098},
{"i":373,"o":1.19359,"h":1.19369,"l":1.19246,"c":1.19256,"m":-0.0012,"s":-0.00104},
{"i":374,"o":1.19267,"h":1.19277,"l":1.19134,"c":1.19175,"m":-0.00123,"s":-0.0011},
{"i":375,"o":1.19206,"h":1.19287,"l":1.1893,"c":1.1924,"m":-0.00127,"s":-0.00113},
{"i":376,"o":1.19165,"h":1.19287,"l":1.19155,"c":1.19236,"m":-0.0013,"s":-0.00117},
{"i":377,"o":1.19236,"h":1.19359,"l":1.19104,"c":1.19114,"m":-0.00135,"s":-0.0012},
{"i":378,"o":1.19124,"h":1.19134,"l":1.19053,"c":1.19063,"m":-0.0014,"s":-0.00123},
{"i":379,"o":1.19093,"h":1.19124,"l":1.18951,"c":1.19114,"m":-0.00145,"s":-0.00127},
{"i":380,"o":1.19114,"h":1.19124,"l":1.19032,"c":1.19042,"m":-0.0015,"s":-0.0013},
{"i":381,"o":1.19042,"h":1.19267,"l":1.19032,"c":1.19256,"m":-0.00155,"s":-0.00135},
{"i":382,"o":1.19256,"h":1.19267,"l":1.19206,"c":1.19216,"m":-0.0016,"s":-0.0014},
{"i":383,"o":1.19246,"h":1.19256,"l":1.19022,"c":1.19032,"m":-0.00165,"s":-0.00145},
{"i":384,"o":1.19032,"h":1.19042,"l":1.18951,"c":1.18961,"m":-0.0017,"s":-0.0015},
{"i":385,"o":1.18951,"h":1.18991,"l":1.1894,"c":1.18981,"m":-0.00175,"s":-0.00155},
{"i":386,"o":1.18981,"h":1.18991,"l":1.18828,"c":1.18838,"m":-0.0018,"s":-0.0016},
{"i":387,"o":1.18869,"h":1.189,"l":1.18818,"c":1.18889,"m":-0.00185,"s":-0.00165},
{"i":388,"o":1.18889,"h":1.1893,"l":1.18879,"c":1.1892,"m":-0.0019,"s":-0.0017},
{"i":389,"o":1.18914,"h":1.18924,"l":1.18869,"c":1.18879,"m":-0.00193,"s":-0.00175},
{"i":390,"o":1.18889,"h":1.189,"l":1.18798,"c":1.18808,"m":-0.00195,"s":-0.0018},
{"i":391,"o":1.18808,"h":1.18828,"l":1.18798,"c":1.18818,"m":-0.00198,"s":-0.00185},
{"i":392,"o":1.18818,"h":1.1891,"l":1.18808,"c":1.189,"m":-0.002,"s":-0.0019},
{"i":393,"o":1.189,"h":1.18935,"l":1.18889,"c":1.18924,"m":-0.00194,"s":-0.00193},
{"i":394,"o":1.1893,"h":1.1894,"l":1.189,"c":1.1891,"m":-0.00188,"s":-0.00195},
{"i":395,"o":1.1891,"h":1.18961,"l":1.189,"c":1.18951,"m":-0.00182,"s":-0.00196},
{"i":396,"o":1.18951,"h":1.18961,"l":1.1891,"c":1.1892,"m":-0.00176,"s":-0.00196},
{"i":397,"o":1.1892,"h":1.1893,"l":1.18879,"c":1.18889,"m":-0.0017,"s":-0.00194},
{"i":398,"o":1.18889,"h":1.1891,"l":1.18879,"c":1.189,"m":-0.00165,"s":-0.00188},
{"i":399,"o":1.18889,"h":1.18961,"l":1.18879,"c":1.1892,"m":-0.0016,"s":-0.00182},
{"i":400,"o":1.1892,"h":1.18951,"l":1.18879,"c":1.18889,"m":-0.00155,"s":-0.00176},
{"i":401,"o":1.18893,"h":1.189,"l":1.18757,"c":1.18767,"m":-0.0015,"s":-0.0017},
{"i":402,"o":1.18777,"h":1.18787,"l":1.18736,"c":1.18747,"m":-0.00145,"s":-0.00165},
{"i":403,"o":1.18757,"h":1.18787,"l":1.18747,"c":1.18771,"m":-0.0014,"s":-0.0016},
{"i":404,"o":1.18771,"h":1.18781,"l":1.18741,"c":1.18751,"m":-0.00135,"s":-0.00155},
{"i":405,"o":1.18757,"h":1.18767,"l":1.18716,"c":1.18726,"m":-0.0013,"s":-0.0015},
{"i":406,"o":1.18726,"h":1.18808,"l":1.18716,"c":1.18791,"m":-0.00125,"s":-0.00145},
{"i":407,"o":1.18757,"h":1.18818,"l":1.18747,"c":1.18798,"m":-0.0012,"s":-0.0014},
{"i":408,"o":1.18777,"h":1.18787,"l":1.18726,"c":1.18736,"m":-0.00115,"s":-0.00135},
{"i":409,"o":1.18743,"h":1.18753,"l":1.18696,"c":1.18716,"m":-0.0011,"s":-0.0013},
{"i":410,"o":1.18716,"h":1.18736,"l":1.18661,"c":1.18726,"m":-0.00095,"s":-0.00124},
{"i":411,"o":1.18722,"h":1.189,"l":1.18712,"c":1.18889,"m":-0.0008,"s":-0.00117},
{"i":412,"o":1.18889,"h":1.19022,"l":1.18879,"c":1.18961,"m":-0.00065,"s":-0.00108},
{"i":413,"o":1.18971,"h":1.18981,"l":1.18828,"c":1.18889,"m":-0.0005,"s":-0.00102},
{"i":414,"o":1.189,"h":1.1893,"l":1.18889,"c":1.1892,"m":-0.0004,"s":-0.00093},
{"i":415,"o":1.1891,"h":1.18971,"l":1.18798,"c":1.18961,"m":-0.0003,"s":-0.00081},
{"i":416,"o":1.18961,"h":1.19052,"l":1.18931,"c":1.18965,"m":-0.00018,"s":-0.00063}
]},
"vconcat":[
{"width":1860,"height":599,
"title":{"text":"▼ EURUSDstp,M30\u00a0 1.18961 1.19052 1.18931 1.18965","offset":-13,"dx":4},
"layer":[
{"data":{"name":"grid"},"mark":{"type":"rule","color":"#ffffff","strokeDash":[3,2],"strokeWidth":1},
 "encoding":{"x":{"field":"g","type":"quantitative","scale":{"domain":[-0.375,464.625],"nice":false,"zero":false},"axis":null}}},
{"data":{"name":"levels"},"mark":{"type":"rule","color":"#1212c8","strokeWidth":2},
 "encoding":{"y":{"field":"v","type":"quantitative","scale":{"domain":[1.172092,1.208766],"nice":false,"zero":false},
  "axis":{"orient":"right","title":null,"values":[1.20865,1.20665,1.2046,1.2026,1.20055,1.19855,1.1965,1.1945,1.1925,1.19045,1.18845,1.1864,1.1844,1.18235,1.18035,1.1783,1.1763,1.17425,1.17225],"labels":false,"tickSize":3}}}},
{"data":{"name":"yt"},"mark":{"type":"text","align":"left","baseline":"middle","dx":5,"font":"Liberation Sans","fontSize":9.5,"color":"#ffffff"},
 "encoding":{"x":{"datum":464.625,"type":"quantitative","axis":null},"y":{"field":"v","type":"quantitative"},"text":{"field":"v","type":"quantitative","format":".5f"}}},
{"data":{"name":"yttop"},"mark":{"type":"text","align":"left","baseline":"middle","dx":5,"dy":2,"font":"Liberation Sans","fontSize":9.5,"color":"#ffffff"},
 "encoding":{"x":{"datum":464.625,"type":"quantitative","axis":null},"y":{"field":"v","type":"quantitative"},"text":{"field":"v","type":"quantitative","format":".5f"}}},
{"data":{"name":"cur"},"mark":{"type":"rule","color":"#a8a8a8","strokeWidth":1},
 "encoding":{"y":{"field":"v","type":"quantitative"}}},
{"data":{"name":"k"},"mark":{"type":"rule","strokeWidth":1},
 "encoding":{"x":{"field":"i","type":"quantitative","axis":null},"y":{"field":"l","type":"quantitative"},"y2":{"field":"h"},
  "color":{"condition":{"test":"datum.c >= datum.o","value":"#1f8f1f"},"value":"#e8191b"}}},
{"data":{"name":"k"},"mark":{"type":"rule","strokeWidth":3,"strokeCap":"butt"},
 "encoding":{"x":{"field":"i","type":"quantitative","axis":null},"y":{"field":"o","type":"quantitative"},"y2":{"field":"c"},
  "color":{"condition":{"test":"datum.c >= datum.o","value":"#1f8f1f"},"value":"#e8191b"}}},
{"data":{"name":"zig"},"mark":{"type":"line","color":"#ffa020","strokeWidth":1.6},
 "encoding":{"x":{"field":"i","type":"quantitative","axis":null},"y":{"field":"p","type":"quantitative"}}},
{"data":{"name":"levels"},"mark":{"type":"rule","color":"#1a1ae6","strokeWidth":11,"strokeCap":"butt"},
 "encoding":{"x":{"datum":464.7,"type":"quantitative","axis":null},"x2":{"datum":475.3},"y":{"field":"v","type":"quantitative"}}},
{"data":{"name":"levels"},"mark":{"type":"text","align":"left","baseline":"middle","dx":5,"font":"Liberation Sans","fontSize":9.5,"color":"#000070"},
 "encoding":{"x":{"datum":464.625,"type":"quantitative","axis":null},"y":{"field":"v","type":"quantitative"},"text":{"field":"v","type":"quantitative","format":".5f"}}},
{"data":{"name":"cur"},"mark":{"type":"rule","color":"#ffffff","strokeWidth":12,"strokeCap":"butt"},
 "encoding":{"x":{"datum":464.7,"type":"quantitative","axis":null},"x2":{"datum":475.3},"y":{"field":"v","type":"quantitative"}}},
{"data":{"name":"cur"},"mark":{"type":"text","align":"left","baseline":"middle","dx":5,"font":"Liberation Sans","fontSize":9.5,"color":"#000000"},
 "encoding":{"x":{"datum":464.625,"type":"quantitative","axis":null},"y":{"field":"v","type":"quantitative"},"text":{"field":"v","type":"quantitative","format":".5f"}}}
]},
{"width":1860,"height":135,
"title":{"text":"MACD(12,26,9) -0.000182 -0.000631","offset":-12,"dx":5},
"layer":[
{"data":{"name":"grid"},"mark":{"type":"rule","color":"#ffffff","strokeDash":[3,2],"strokeWidth":1},
 "encoding":{"x":{"field":"g","type":"quantitative","scale":{"domain":[-0.375,464.625],"nice":false,"zero":false},
  "axis":{"title":null,"values":[0,16,32,48,64,80,96,112,128,144,160,176,192,208,224,240,256,272,288,304,320,336,352,368,384,400,416],
  "labelExpr":"['18 Aug 2017','21 Aug 04:00','21 Aug 12:00','21 Aug 20:00','22 Aug 04:00','22 Aug 12:00','22 Aug 20:00','23 Aug 04:00','23 Aug 12:00','23 Aug 20:00','24 Aug 04:00','24 Aug 12:00','24 Aug 20:00','25 Aug 04:00','25 Aug 12:00','25 Aug 20:00','28 Aug 04:00','28 Aug 12:00','28 Aug 20:00','29 Aug 04:00','29 Aug 12:00','29 Aug 20:00','30 Aug 04:00','30 Aug 12:00','30 Aug 20:00','31 Aug 04:00','31 Aug 12:00'][round(datum.value/16)]",
  "labelAlign":"left","labelDx":1,"labelPadding":2,"tickSize":5,"labelOverlap":false,"labelBound":false}}}},
{"data":{"name":"k"},"mark":{"type":"rule","color":"#e6e6e6","strokeWidth":1},
 "encoding":{"x":{"field":"i","type":"quantitative"},"y":{"field":"m","type":"quantitative","scale":{"domain":[-0.0022,0.00398],"nice":false,"zero":false},
  "axis":{"orient":"right","title":null,"values":[0.00366,0,-0.001993],"labelExpr":"datum.value == 0 ? '0.00' : (datum.value > 0 ? '0.00366' : '-0.001993')","tickSize":2,"labelPadding":1,"labelOverlap":false,
  "labelFontSize":{"condition":{"test":"datum.value < 0","value":8},"value":9.5}}},
  "y2":{"datum":0}}},
{"data":{"name":"k"},"mark":{"type":"line","color":"#e03030","strokeWidth":1,"strokeDash":[2,2]},
 "encoding":{"x":{"field":"i","type":"quantitative"},"y":{"field":"s","type":"quantitative"}}}
]}
]
}
